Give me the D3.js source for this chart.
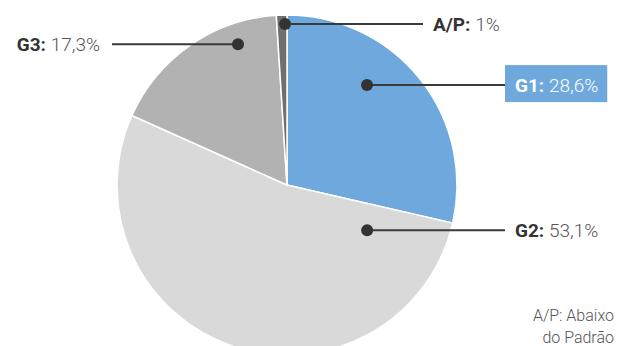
<!DOCTYPE html>
<html>
<head>
<meta charset="utf-8">
<script src="https://cdn.jsdelivr.net/npm/d3@7"></script>
<style>
  html, body { margin: 0; padding: 0; background: #fff; }
  svg { display: block; font-family: Roboto, "Open Sans", sans-serif; }
</style>
</head>
<body>
<svg id="chart" width="617" height="346"></svg>
<script>
// Slice data, in drawing order (clockwise from 12 o'clock)
const categories = ["G1", "G2", "G3", "A/P"];
const values = [28.6, 53.1, 17.3, 1.0];
const valueLabels = ["28,6%", "53,1%", "17,3%", "1%"];
const colors = ["#6fa8dc", "#d9d9d9", "#b2b2b2", "#6f6f6f"];

// Callout anchors: angle (deg, clockwise from top) and distance from the centre
const calloutAngle = [38.7, 119.4, 340.8, 359.3];
const calloutDist = [128, 92, 149, 161];
// Callout label side and horizontal end of the leader line
const calloutSide = ["right", "right", "left", "right"];
const calloutLineEnd = [505, 505, 112, 423];

const svg = d3.select("#chart");
const cx = 287, cy = 185, radius = 170;

const pie = d3.pie().sort(null).value(d => d.value);
const arc = d3.arc().innerRadius(0).outerRadius(radius);

const data = categories.map((c, i) => ({ name: c, value: values[i], label: valueLabels[i], color: colors[i] }));

const g = svg.append("g").attr("transform", `translate(${cx},${cy})`);
g.selectAll("path")
  .data(pie(data))
  .join("path")
  .attr("d", arc)
  .attr("fill", d => d.data.color)
  .attr("stroke", "#fff")
  .attr("stroke-width", 1.5);

// Callouts
const toRad = a => a * Math.PI / 180;
data.forEach((d, i) => {
  const a = toRad(calloutAngle[i]);
  const px = cx + calloutDist[i] * Math.sin(a);
  const py = cy - calloutDist[i] * Math.cos(a);
  const ex = calloutLineEnd[i];

  svg.append("line")
    .attr("x1", px).attr("y1", py)
    .attr("x2", ex).attr("y2", py)
    .attr("stroke", "#3a3a3a").attr("stroke-width", 2);
  svg.append("circle")
    .attr("cx", px).attr("cy", py).attr("r", 6)
    .attr("fill", "#333");

  const highlighted = i === 0;
  const side = calloutSide[i];
  const tx = side === "right" ? ex + 10 : ex - 12;
  const text = svg.append("text")
    .attr("x", tx).attr("y", py + 7)
    .attr("text-anchor", side === "right" ? "start" : "end")
    .attr("font-size", 19)
    .attr("fill", highlighted ? "#fff" : "#333");
  text.append("tspan").attr("font-weight", 700).text(d.name + ": ");
  text.append("tspan").attr("font-weight", 300).attr("fill", highlighted ? "#fff" : "#555").text(d.label);

  if (highlighted) {
    const bb = text.node().getBBox();
    svg.insert("rect", "text")
      .attr("x", ex).attr("y", py - 20)
      .attr("width", bb.x + bb.width + 9 - ex).attr("height", 37)
      .attr("fill", colors[0]);
  }
});

// Footnote
const note = svg.append("text")
  .attr("text-anchor", "end")
  .attr("font-size", 16)
  .attr("font-weight", 300)
  .attr("fill", "#555");
note.append("tspan").attr("x", 614).attr("y", 321).text("A/P: Abaixo");
note.append("tspan").attr("x", 614).attr("y", 343).text("do Padrão");
</script>
</body>
</html>
